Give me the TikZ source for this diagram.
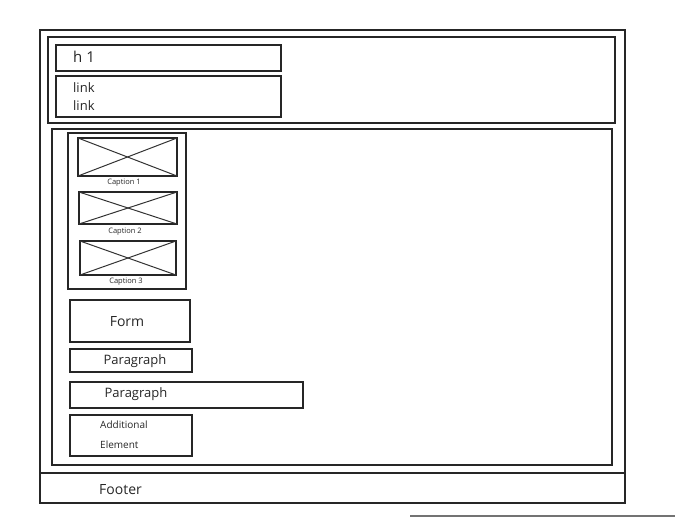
\documentclass[tikz,border=0pt]{standalone}
\usepackage{fontspec}
\setmainfont{Open Sans}
\tikzset{
  box/.style={draw=black!85, line width=1.1pt, inner sep=0pt, outer sep=0pt},
  imgbox/.style={box},
  cross/.style={draw=black!80, line width=1pt},
  lbl/.style={inner sep=0pt, font=\fontsize{13}{15}\selectfont, text=black!85},
  captxt/.style={inner sep=0pt, font=\fontsize{7.5}{9}\selectfont, text=black!85},
}
\begin{document}
\begin{tikzpicture}[x=1pt,y=-1pt]
\useasboundingbox (0,0) rectangle (675,517);
% frames
\node[box, minimum width=585pt, minimum height=473pt] (outer) at (332.5,266.5) {};
\node[box, minimum width=567pt, minimum height=86pt] (header) at (331.5,80) {};
\node[box, minimum width=225pt, minimum height=26pt] (h1box) at (168.5,58) {};
\node[box, minimum width=225pt, minimum height=41pt] (linkbox) at (168.5,96.5) {};
\node[box, minimum width=560pt, minimum height=336pt] (main) at (332,297) {};
\node[box, minimum width=118pt, minimum height=156pt] (gallery) at (127,211) {};
% images
\node[imgbox, minimum width=99pt, minimum height=38pt] (img1) at (127.5,157) {};
\node[imgbox, minimum width=98pt, minimum height=32pt] (img2) at (128,208) {};
\node[imgbox, minimum width=96pt, minimum height=34pt] (img3) at (128,258) {};
\foreach \i in {img1,img2,img3}{
  \draw[cross] (\i.north west) -- (\i.south east);
  \draw[cross] (\i.south west) -- (\i.north east);
}
\node[captxt] (cap1) at (124,183) {Caption 1};
\node[captxt] (cap2) at (125,232) {Caption 2};
\node[captxt] (cap3) at (126,282) {Caption 3};
% content boxes
\node[box, minimum width=120pt, minimum height=42pt] (form) at (130,321) {};
\node[box, minimum width=122pt, minimum height=23pt] (para1) at (131,360.5) {};
\node[box, minimum width=233pt, minimum height=26pt] (para2) at (186.5,395) {};
\node[box, minimum width=122pt, minimum height=41pt] (addl) at (131,435.5) {};
\node[box, minimum width=585pt, minimum height=30pt] (footer) at (332.5,488) {};
% texts
\node[lbl, anchor=west, font=\fontsize{15}{17}\selectfont] (th1) at (73,57) {h 1};
\node[lbl, anchor=west] (tl1) at (73,88) {link};
\node[lbl, anchor=west] (tl2) at (73,106) {link};
\node[lbl, font=\fontsize{14}{16}\selectfont] (tform) at (127,322) {Form};
\node[lbl] (tp1) at (135,361) {Paragraph};
\node[lbl] (tp2) at (136,394) {Paragraph};
\node[lbl, anchor=west, font=\fontsize{10}{12}\selectfont] (ta1) at (100,425) {Additional};
\node[lbl, anchor=west, font=\fontsize{10}{12}\selectfont] (ta2) at (100,445) {Element};
\node[lbl, anchor=west, font=\fontsize{14}{16}\selectfont] (tfoot) at (99,490) {Footer};
% paper edge
\coordinate (pe1) at (410,516);
\coordinate (pe2) at (675,516);
\draw[black!55, line width=1.2pt] (pe1) -- (pe2);
\end{tikzpicture}
\end{document}
